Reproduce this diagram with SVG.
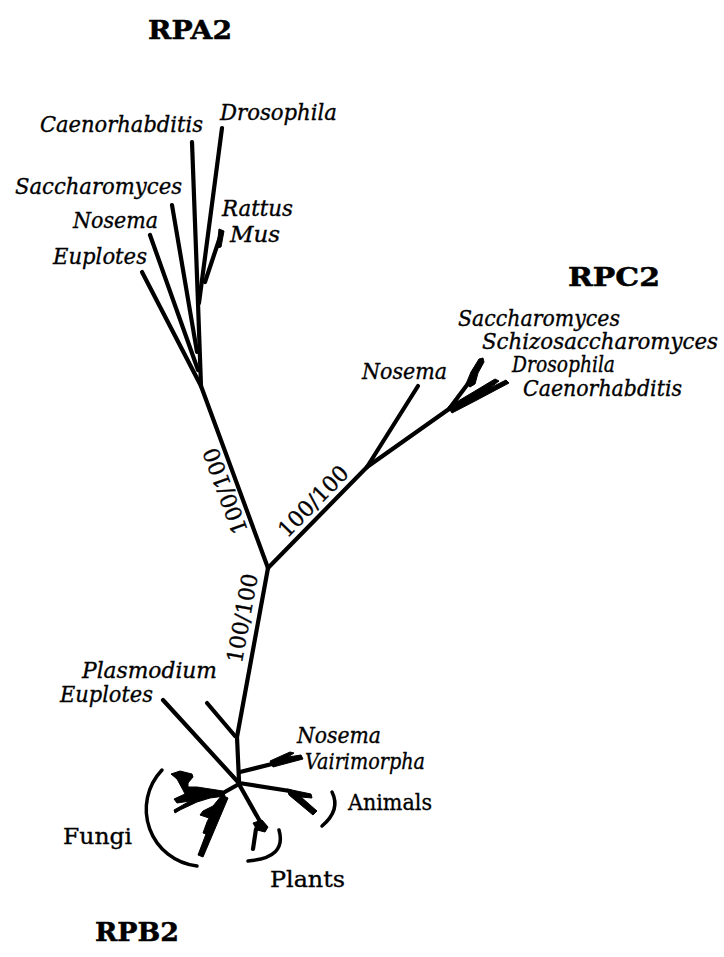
<svg xmlns="http://www.w3.org/2000/svg" width="724" height="957" viewBox="0 0 724 957">
<style>
text{font-family:"DejaVu Serif","Liberation Serif",serif;fill:#000;stroke:#000;stroke-width:0.35}
.it{font-style:italic;font-size:22px}
.up{font-size:23px}
.bd{font-weight:bold;font-size:26px;stroke-width:0.5}
.bs{font-size:22px}
.br path{fill:none;stroke:#000;stroke-width:4.2;stroke-linecap:round;stroke-linejoin:round}
.br polygon{fill:#000;stroke:#000;stroke-width:1;stroke-linejoin:round}
.arc{fill:none;stroke:#000;stroke-width:3.5;stroke-linecap:round}
</style>
<rect width="724" height="957" fill="#fff"/>

<g id="connectors" class="br">
  <!-- RPA2 subtree -->
  <path d="M268,568 L201,386"/>
  <path d="M201,386 L198,303"/>
  <path d="M142,272 L201,386"/>
  <path d="M150,235 L198,370"/>
  <path d="M172,205 L197,352"/>
  <path d="M192,142 L198,303"/>
  <path d="M222,128 L199,303"/>
  <path d="M221,234 L205,282"/>
  <polygon points="219,229 224,231 221,247 217,248"/>
  <!-- RPC2 subtree -->
  <path d="M268,568 L367,467"/>
  <path d="M367,467 L418,386"/>
  <path d="M367,467 L449,409"/>
  <path d="M449,409 L470,381"/>
  <polygon points="466,384 471,372 479,359 483,358 484,362 478,373 475,384 470,387"/>
  <polygon points="448,407 470,394 495,379 499,381 490,388 506,380 509,383 477,400 452,413"/>
  <!-- RPB2 subtree -->
  <path d="M268,568 L237,737 L239,781"/>
  <path d="M207,703 L235,736"/>
  <path d="M163,700 L238,782"/>
  <path d="M240,772 L272,764"/>
  <polygon points="270,761 290,752 294,753 288,757 301,755 303,759 273,767"/>
  <path d="M239,783 L290,791"/>
  <polygon points="287,789 311,794 312,798 301,797 317,811 313,815 289,795"/>
  <path d="M240,786 L262,825"/>
  <polygon points="253,823 262,820 268,827 265,832 257,830"/>
  <path d="M256,829 L253,849"/>
  <path d="M239,784 L223,793"/>
  <polygon points="171,774 180,771 192,774 193,777 188,783 188,787 197,787 223,791 225,796 210,798 197,802 180,810 175,813 174,810 190,801 177,803 174,799 185,794 183,790 177,779"/>
  <polygon points="222,795 228,798 203,857 198,855 206,834 203,833 207,822 209,818 200,815 203,811 213,806"/>
</g>

<g id="brackets">
  <path class="arc" d="M162,770 A57,57 0 0,0 197,866"/>
  <path class="arc" d="M332,792 Q341,810 322,826"/>
  <path class="arc" d="M279,830 Q287,858 248,861"/>
</g>

<g id="support">
  <text class="bs" transform="translate(225,491) rotate(-110)" text-anchor="middle" y="8" textLength="90" lengthAdjust="spacingAndGlyphs">100/100</text>
  <text class="bs" transform="translate(313,501) rotate(-45.6)" text-anchor="middle" y="8" textLength="90" lengthAdjust="spacingAndGlyphs">100/100</text>
  <text class="bs" transform="translate(242,618) rotate(-79.6)" text-anchor="middle" y="8" textLength="90" lengthAdjust="spacingAndGlyphs">100/100</text>
</g>

<g id="RPA2">
  <text class="bd" x="148" y="39" textLength="84" lengthAdjust="spacingAndGlyphs">RPA2</text>
  <text id="a-caen" class="it" x="40" y="132" textLength="163" lengthAdjust="spacingAndGlyphs">Caenorhabditis</text>
  <text id="a-dros" class="it" x="220" y="120" textLength="117" lengthAdjust="spacingAndGlyphs">Drosophila</text>
  <text id="a-sacc" class="it" x="15" y="194" textLength="167" lengthAdjust="spacingAndGlyphs">Saccharomyces</text>
  <text id="a-ratt" class="it" x="222" y="216" textLength="71" lengthAdjust="spacingAndGlyphs">Rattus</text>
  <text id="a-nose" class="it" x="73" y="228" textLength="85" lengthAdjust="spacingAndGlyphs">Nosema</text>
  <text id="a-mus" class="it" x="230" y="242" textLength="50" lengthAdjust="spacingAndGlyphs">Mus</text>
  <text id="a-eupl" class="it" x="53" y="264" textLength="94" lengthAdjust="spacingAndGlyphs">Euplotes</text>
</g>

<g id="RPC2">
  <text class="bd" x="568" y="286" textLength="92" lengthAdjust="spacingAndGlyphs">RPC2</text>
  <text id="c-sacc" class="it" x="458" y="326" textLength="162" lengthAdjust="spacingAndGlyphs">Saccharomyces</text>
  <text id="c-schi" class="it" x="482" y="349" textLength="236" lengthAdjust="spacingAndGlyphs">Schizosaccharomyces</text>
  <text id="c-dros" class="it" x="512" y="372" textLength="103" lengthAdjust="spacingAndGlyphs">Drosophila</text>
  <text id="c-nose" class="it" x="362" y="379" textLength="85" lengthAdjust="spacingAndGlyphs">Nosema</text>
  <text id="c-caen" class="it" x="523" y="396" textLength="159" lengthAdjust="spacingAndGlyphs">Caenorhabditis</text>
</g>

<g id="RPB2">
  <text class="bd" x="95" y="941" textLength="84" lengthAdjust="spacingAndGlyphs">RPB2</text>
  <text id="b-plas" class="it" x="82" y="678" textLength="135" lengthAdjust="spacingAndGlyphs">Plasmodium</text>
  <text id="b-eupl" class="it" x="60" y="702" textLength="93" lengthAdjust="spacingAndGlyphs">Euplotes</text>
  <text id="b-nose" class="it" x="297" y="743" textLength="84" lengthAdjust="spacingAndGlyphs">Nosema</text>
  <text id="b-vair" class="it" x="305" y="769" textLength="120" lengthAdjust="spacingAndGlyphs">Vairimorpha</text>
  <text id="b-anim" class="up" x="348" y="810" textLength="84" lengthAdjust="spacingAndGlyphs">Animals</text>
  <text id="b-fung" class="up" x="63" y="844" textLength="69" lengthAdjust="spacingAndGlyphs">Fungi</text>
  <text id="b-plan" class="up" x="270" y="887" textLength="75" lengthAdjust="spacingAndGlyphs">Plants</text>
</g>
</svg>
